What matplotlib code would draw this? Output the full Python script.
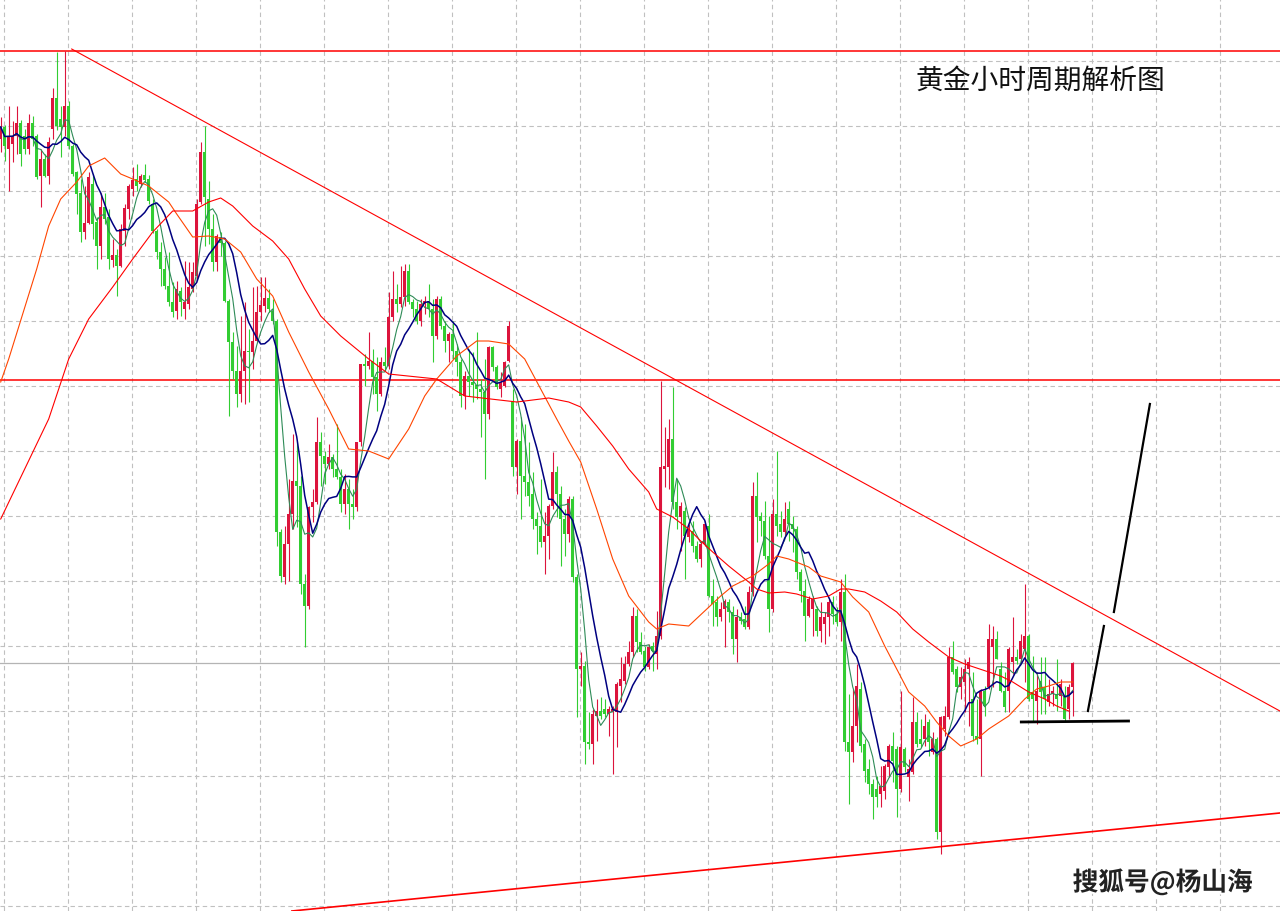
import numpy as np
import pandas as pd
import matplotlib
matplotlib.use("Agg")
import matplotlib.pyplot as plt
import matplotlib.patheffects as pe

plt.rcParams['font.family'] = ['Noto Sans CJK SC', 'DejaVu Sans']

# ---- hourly gold candles (price) ----
opens = [
    1986.0, 1987.2, 1985.0, 1985.5, 1986.3, 1987.6, 1986.3, 1985.0, 1987.6, 1986.3,
    1982.3, 1984.0, 1982.3, 1987.0, 1990.1, 1988.0, 1987.2, 1989.3, 1985.3, 1982.7,
    1980.6, 1976.7, 1977.6, 1981.5, 1977.7, 1975.3, 1979.2, 1978.2, 1973.9, 1974.4,
    1973.3, 1976.8, 1979.0, 1981.0, 1982.0, 1981.5, 1982.4, 1982.0, 1979.5, 1976.8,
    1974.7, 1973.0, 1971.3, 1969.7, 1968.8, 1970.8, 1969.0, 1969.5, 1971.0, 1972.3,
    1979.7, 1984.7, 1980.0, 1977.0, 1973.7, 1976.2, 1975.6, 1969.8, 1965.7, 1962.8,
    1960.5, 1962.8, 1964.8, 1964.7, 1965.8, 1968.7, 1969.3, 1970.1, 1968.8, 1967.8,
    1946.7, 1942.2, 1945.5, 1948.5, 1951.8, 1951.3, 1941.5, 1939.3, 1949.2, 1949.7,
    1955.7, 1954.3, 1953.5, 1954.2, 1953.0, 1952.2, 1949.5, 1951.0, 1949.5, 1949.2,
    1955.7, 1963.5, 1963.3, 1963.8, 1962.2, 1960.5, 1963.7, 1963.3, 1968.2, 1970.0,
    1969.5, 1970.2, 1972.8, 1969.7, 1969.0, 1967.8, 1969.5, 1969.8, 1969.0, 1966.3,
    1970.0, 1967.3, 1965.8, 1966.5, 1964.8, 1963.7, 1960.3, 1962.3, 1961.7, 1961.4,
    1961.0, 1960.7, 1958.5, 1965.2, 1963.2, 1961.0, 1961.3, 1963.8, 1959.8, 1953.2,
    1955.8, 1952.3, 1951.7, 1950.5, 1948.0, 1947.3, 1945.7, 1946.3, 1949.3, 1952.7,
    1950.5, 1948.0, 1946.5, 1950.0, 1942.2, 1933.0, 1933.3, 1925.7, 1925.5, 1928.3,
    1928.8, 1929.0, 1928.5, 1928.7, 1928.7, 1931.3, 1931.8, 1933.5, 1934.7, 1938.3,
    1935.7, 1934.8, 1933.2, 1935.3, 1934.5, 1936.3, 1953.0, 1953.2, 1956.0, 1949.7,
    1948.2, 1948.8, 1946.2, 1946.8, 1945.3, 1944.0, 1945.5, 1947.3, 1940.3, 1939.7,
    1938.2, 1939.0, 1939.7, 1938.7, 1936.0, 1938.2, 1938.0, 1937.2, 1940.7, 1950.3,
    1948.3, 1947.8, 1944.3, 1939.0, 1948.5, 1947.5, 1946.7, 1949.0, 1947.5, 1947.0,
    1942.7, 1940.8, 1938.3, 1939.0, 1939.0, 1936.8, 1937.5, 1938.2, 1939.7, 1938.5,
    1937.7, 1940.7, 1925.7, 1924.7, 1927.3, 1931.0, 1925.5, 1923.0, 1921.5, 1921.0,
    1920.5, 1920.8, 1923.2, 1925.3, 1925.0, 1921.0, 1925.0, 1922.2, 1922.7, 1927.7,
    1926.0, 1926.0, 1927.7, 1924.7, 1926.0, 1916.7, 1927.0, 1928.2, 1934.2, 1933.0,
    1931.2, 1931.7, 1933.0, 1930.0, 1926.3, 1926.0, 1930.8, 1931.2, 1935.2, 1936.0,
    1933.0, 1930.8, 1930.8, 1933.7, 1934.2, 1934.0, 1935.0, 1936.3, 1930.7, 1929.8,
    1931.8, 1931.2, 1929.7, 1930.5, 1930.5, 1930.3, 1930.3, 1929.0, 1931.2,
]
highs = [
    1988.2, 1987.4, 1989.3, 1987.8, 1989.3, 1987.9, 1987.0, 1988.5, 1988.3, 1986.5,
    1985.0, 1984.5, 1986.2, 1991.1, 1994.7, 1989.3, 1994.8, 1989.8, 1985.5, 1982.8,
    1982.0, 1981.3, 1982.7, 1982.5, 1978.2, 1980.6, 1980.6, 1979.0, 1976.0, 1975.0,
    1977.5, 1979.5, 1981.5, 1983.2, 1983.5, 1982.5, 1983.5, 1982.4, 1980.0, 1977.0,
    1975.7, 1974.2, 1974.7, 1971.7, 1971.8, 1971.2, 1973.8, 1973.7, 1973.7, 1980.0,
    1985.7, 1987.3, 1981.8, 1978.5, 1976.5, 1976.7, 1975.8, 1970.0, 1966.7, 1965.3,
    1968.3, 1969.7, 1967.0, 1971.2, 1971.3, 1972.2, 1972.2, 1971.0, 1970.0, 1968.0,
    1947.0, 1947.3, 1952.0, 1956.5, 1955.7, 1952.3, 1942.5, 1949.3, 1951.0, 1958.2,
    1956.7, 1954.8, 1955.5, 1954.5, 1957.5, 1953.0, 1952.5, 1952.0, 1951.0, 1955.7,
    1963.5, 1964.5, 1966.7, 1965.0, 1964.2, 1964.2, 1965.2, 1970.7, 1972.8, 1971.5,
    1973.3, 1973.5, 1973.5, 1970.0, 1969.8, 1970.0, 1970.3, 1971.5, 1970.0, 1970.3,
    1970.3, 1967.8, 1966.7, 1967.8, 1965.5, 1964.0, 1962.8, 1965.0, 1964.7, 1966.7,
    1962.0, 1964.0, 1965.3, 1965.3, 1963.4, 1962.7, 1963.8, 1967.8, 1961.0, 1956.0,
    1958.2, 1957.5, 1955.7, 1952.7, 1948.7, 1952.0, 1948.7, 1949.5, 1954.7, 1953.3,
    1951.3, 1949.0, 1950.3, 1950.3, 1942.5, 1934.7, 1933.8, 1928.7, 1929.0, 1930.0,
    1930.2, 1930.0, 1929.3, 1929.3, 1931.7, 1934.2, 1934.3, 1935.8, 1939.2, 1939.0,
    1936.7, 1935.3, 1935.5, 1935.7, 1938.8, 1961.8, 1957.2, 1958.0, 1961.2, 1952.0,
    1949.7, 1949.2, 1947.5, 1947.8, 1945.8, 1945.8, 1947.8, 1948.5, 1942.0, 1940.3,
    1939.7, 1940.0, 1940.0, 1939.3, 1939.0, 1938.7, 1939.3, 1941.3, 1951.7, 1952.7,
    1948.7, 1949.8, 1948.3, 1950.0, 1954.8, 1948.8, 1949.7, 1949.8, 1948.3, 1947.3,
    1943.0, 1942.0, 1940.3, 1940.3, 1939.3, 1939.7, 1938.7, 1940.0, 1940.3, 1939.2,
    1942.0, 1942.5, 1930.5, 1931.0, 1933.5, 1931.7, 1926.0, 1924.0, 1922.0, 1922.3,
    1923.3, 1923.5, 1925.5, 1926.7, 1925.3, 1930.8, 1925.2, 1924.0, 1930.2, 1928.7,
    1928.0, 1928.5, 1928.0, 1926.7, 1926.2, 1928.3, 1929.3, 1935.2, 1935.8, 1933.3,
    1933.2, 1934.0, 1934.2, 1932.7, 1930.0, 1931.0, 1931.3, 1937.5, 1937.3, 1936.8,
    1933.7, 1932.7, 1935.2, 1938.2, 1935.0, 1936.5, 1941.5, 1936.5, 1934.3, 1932.7,
    1934.2, 1934.2, 1932.0, 1931.3, 1934.0, 1932.0, 1931.3, 1931.5, 1933.7,
]
lows = [
    1984.7, 1983.8, 1980.8, 1983.7, 1984.5, 1983.3, 1984.5, 1984.5, 1985.3, 1982.0,
    1979.2, 1982.2, 1981.5, 1986.0, 1986.9, 1984.2, 1986.3, 1985.0, 1982.3, 1978.5,
    1975.7, 1976.0, 1977.5, 1976.0, 1973.0, 1974.0, 1977.5, 1973.0, 1973.2, 1970.3,
    1973.2, 1975.3, 1978.0, 1980.3, 1980.8, 1981.2, 1981.7, 1979.5, 1976.6, 1974.0,
    1971.3, 1971.0, 1969.3, 1968.2, 1968.0, 1968.3, 1968.0, 1969.0, 1970.7, 1972.0,
    1979.5, 1975.3, 1975.5, 1972.8, 1972.8, 1974.3, 1969.7, 1958.3, 1962.0, 1959.2,
    1959.7, 1959.5, 1959.7, 1963.0, 1965.7, 1967.8, 1968.7, 1968.7, 1967.5, 1945.3,
    1941.7, 1941.5, 1941.8, 1947.0, 1947.2, 1940.5, 1935.2, 1939.0, 1947.7, 1949.5,
    1951.3, 1951.5, 1953.0, 1952.2, 1952.0, 1948.7, 1948.5, 1947.0, 1948.0, 1948.8,
    1955.3, 1961.3, 1963.0, 1960.5, 1958.8, 1960.3, 1962.8, 1963.0, 1967.8, 1968.7,
    1969.2, 1969.3, 1969.5, 1968.2, 1967.5, 1967.3, 1968.5, 1968.2, 1963.7, 1966.0,
    1967.0, 1964.7, 1963.7, 1964.0, 1962.3, 1959.2, 1959.0, 1960.3, 1959.7, 1960.0,
    1956.2, 1952.0, 1958.0, 1962.8, 1961.0, 1960.2, 1961.2, 1963.7, 1952.3, 1950.5,
    1948.0, 1950.3, 1949.3, 1947.0, 1944.5, 1945.2, 1942.5, 1944.0, 1949.0, 1948.2,
    1943.3, 1944.3, 1945.7, 1941.7, 1928.2, 1931.3, 1923.5, 1925.0, 1923.5, 1925.8,
    1928.0, 1928.2, 1926.3, 1922.5, 1925.2, 1929.7, 1931.5, 1933.3, 1934.2, 1934.7,
    1934.5, 1932.8, 1933.0, 1932.8, 1933.0, 1936.0, 1951.2, 1951.0, 1949.0, 1947.0,
    1944.8, 1942.0, 1945.7, 1944.7, 1943.7, 1943.2, 1945.3, 1940.2, 1937.3, 1937.3,
    1937.8, 1935.2, 1937.7, 1934.5, 1933.7, 1937.5, 1937.0, 1937.0, 1940.3, 1945.7,
    1946.3, 1944.0, 1936.7, 1938.7, 1946.3, 1946.2, 1946.3, 1945.8, 1944.7, 1942.0,
    1939.7, 1935.8, 1938.2, 1936.3, 1936.3, 1935.7, 1935.5, 1936.3, 1937.5, 1937.3,
    1935.8, 1924.8, 1919.5, 1923.7, 1925.7, 1924.7, 1921.7, 1920.5, 1918.0, 1919.2,
    1919.2, 1920.0, 1922.2, 1921.7, 1918.2, 1920.7, 1922.7, 1919.8, 1922.5, 1925.2,
    1925.2, 1925.3, 1924.3, 1924.5, 1916.0, 1914.5, 1926.3, 1928.0, 1932.5, 1930.7,
    1930.0, 1928.7, 1927.3, 1925.8, 1925.5, 1922.3, 1928.3, 1931.0, 1931.2, 1934.0,
    1930.7, 1928.7, 1928.7, 1932.5, 1933.5, 1933.7, 1931.7, 1929.8, 1927.7, 1927.5,
    1928.5, 1928.5, 1929.3, 1929.3, 1928.8, 1929.3, 1927.8, 1928.0, 1928.3,
]
closes = [
    1987.2, 1985.3, 1986.3, 1986.3, 1987.6, 1984.5, 1985.0, 1987.6, 1986.0, 1982.2,
    1984.0, 1982.3, 1985.7, 1990.1, 1987.3, 1987.2, 1989.3, 1985.3, 1982.5, 1980.5,
    1976.7, 1977.6, 1982.2, 1977.5, 1975.3, 1979.2, 1978.0, 1974.0, 1974.4, 1973.3,
    1977.0, 1979.1, 1981.3, 1981.9, 1981.3, 1982.3, 1981.9, 1979.8, 1976.8, 1974.7,
    1973.0, 1971.3, 1969.7, 1968.7, 1971.0, 1969.7, 1969.7, 1971.2, 1972.7, 1979.5,
    1984.7, 1980.2, 1977.0, 1973.7, 1976.3, 1975.6, 1969.8, 1965.7, 1962.8, 1960.5,
    1962.8, 1964.8, 1964.7, 1965.8, 1968.7, 1969.4, 1970.1, 1969.0, 1967.8, 1946.7,
    1942.3, 1945.5, 1948.5, 1951.8, 1951.3, 1941.5, 1939.3, 1949.2, 1949.7, 1955.7,
    1954.3, 1953.5, 1954.2, 1953.0, 1952.2, 1949.5, 1951.0, 1949.5, 1949.2, 1955.7,
    1963.5, 1963.3, 1963.8, 1962.2, 1960.5, 1963.7, 1963.3, 1968.2, 1970.0, 1969.5,
    1970.2, 1972.8, 1969.7, 1969.0, 1967.8, 1969.5, 1969.8, 1969.0, 1966.3, 1970.0,
    1967.3, 1965.8, 1966.5, 1964.8, 1963.7, 1960.3, 1962.3, 1961.7, 1961.4, 1961.0,
    1960.7, 1958.5, 1965.2, 1963.2, 1961.2, 1961.7, 1963.7, 1967.3, 1953.2, 1955.8,
    1952.3, 1951.7, 1950.3, 1948.0, 1947.3, 1945.7, 1946.3, 1949.3, 1952.7, 1950.5,
    1948.0, 1946.5, 1950.0, 1942.2, 1933.0, 1933.3, 1925.7, 1925.5, 1928.5, 1928.8,
    1928.3, 1928.5, 1929.0, 1929.0, 1931.5, 1932.0, 1933.5, 1934.7, 1938.3, 1935.7,
    1934.7, 1933.2, 1935.2, 1934.8, 1936.3, 1953.2, 1953.3, 1956.0, 1949.7, 1948.2,
    1949.3, 1946.3, 1947.0, 1945.3, 1944.0, 1945.5, 1947.5, 1940.3, 1939.5, 1938.2,
    1939.0, 1939.8, 1938.7, 1936.0, 1938.2, 1937.8, 1937.2, 1940.7, 1950.3, 1948.2,
    1947.8, 1944.3, 1939.0, 1948.5, 1947.3, 1946.7, 1948.0, 1947.5, 1947.0, 1942.7,
    1940.8, 1938.3, 1940.0, 1940.0, 1936.8, 1938.2, 1938.2, 1939.7, 1938.5, 1937.7,
    1940.7, 1925.7, 1924.7, 1927.3, 1931.3, 1925.3, 1922.8, 1921.5, 1920.2, 1920.2,
    1921.3, 1923.3, 1925.3, 1923.8, 1921.0, 1925.2, 1923.2, 1923.0, 1927.7, 1925.5,
    1925.5, 1927.3, 1925.7, 1926.0, 1916.7, 1928.2, 1928.3, 1934.2, 1932.7, 1931.2,
    1932.2, 1933.0, 1933.7, 1926.3, 1926.0, 1930.8, 1929.3, 1936.0, 1936.0, 1934.0,
    1930.8, 1929.2, 1935.0, 1934.2, 1933.8, 1935.8, 1936.3, 1930.0, 1930.0, 1930.8,
    1930.7, 1930.0, 1930.5, 1930.8, 1930.0, 1931.5, 1928.0, 1931.2, 1933.6,
]

# slow moving averages (bar number, price)
orange_bar = [0, 2, 9, 12, 15, 19, 22, 26, 30, 33, 37, 42, 44, 48, 52, 56, 60, 64,
              68, 72, 77, 82, 87, 92, 97, 102, 106, 109, 114, 119, 122, 127, 131,
              135, 139, 142, 145, 149, 153, 157, 162, 164, 167, 172, 176, 180, 183,
              188, 192, 194, 197, 202, 205, 210, 213, 217, 221, 224, 227, 231, 234,
              237, 240, 244, 247, 252, 256, 259, 262, 265, 268]
orange_ma = [1961.7, 1964.0, 1973.0, 1977.3, 1980.0, 1981.7, 1983.3, 1984.1, 1982.5,
             1982.0, 1981.3, 1979.7, 1978.5, 1976.2, 1976.3, 1976.0, 1974.7, 1972.0,
             1970.3, 1966.7, 1962.7, 1959.0, 1955.0, 1954.8, 1954.0, 1957.0, 1960.3,
             1962.0, 1964.3, 1965.8, 1965.8, 1965.5, 1964.0, 1961.0, 1958.0, 1955.8,
             1953.7, 1949.0, 1944.0, 1940.3, 1937.7, 1937.0, 1937.5, 1937.3, 1938.8,
             1940.3, 1941.3, 1942.3, 1943.5, 1944.3, 1944.0, 1943.2, 1942.3, 1941.7,
             1940.2, 1938.7, 1935.3, 1933.0, 1930.7, 1929.3, 1927.7, 1926.3, 1925.3,
             1926.0, 1927.0, 1928.3, 1930.0, 1931.0, 1931.3, 1931.7, 1931.7]
red_bar = [0, 6, 12, 17, 22, 28, 33, 38, 43, 48, 52, 55, 58, 63, 68, 72, 76, 80, 85,
           92, 97, 109, 116, 129, 137, 142, 145, 149, 153, 157, 162, 164, 168, 172,
           175, 178, 182, 187, 189, 192, 196, 199, 203, 207, 210, 212, 216, 220, 224,
           228, 232, 237, 241, 247, 250, 253, 257, 261, 264, 267]
red_ma = [1948.0, 1953.0, 1958.0, 1964.0, 1968.0, 1971.2, 1974.0, 1976.7, 1978.8,
          1978.8, 1979.7, 1980.1, 1979.3, 1977.3, 1975.8, 1974.0, 1971.0, 1968.3,
          1966.3, 1964.0, 1962.5, 1962.0, 1960.3, 1959.7, 1960.1, 1959.7, 1959.2,
          1957.3, 1955.3, 1953.0, 1950.7, 1949.0, 1948.2, 1947.0, 1945.8, 1944.7,
          1943.3, 1941.7, 1941.0, 1940.6, 1940.7, 1940.5, 1940.0, 1940.3, 1941.0,
          1941.0, 1940.7, 1939.8, 1938.7, 1937.0, 1935.7, 1934.2, 1933.5, 1932.7,
          1932.3, 1931.7, 1930.7, 1930.0, 1929.3, 1928.8]

# drawn analysis lines: levels and (bar, price) end points
top_level = 1994.8
mid_level = 1961.9
gray_level = 1933.6
down_trend = ([17.75, 319.8], [1995.0, 1928.8])
up_support = ([72.8, 319.8], [1908.8, 1918.6])
base_line = ([254.8, 282.3], [1927.7, 1927.8])
arrow_low = ([271.8, 275.8], [1928.8, 1937.3])
arrow_high = ([278.3, 287.3], [1938.7, 1959.5])

title = "黄金小时周期解析图"
watermark = "搜狐号@杨山海"

# ---- drawing ----
o = np.array(opens)
h = np.array(highs)
l = np.array(lows)
c = np.array(closes)
x = np.arange(len(c))

fig = plt.figure(figsize=(12.8, 9.12), dpi=100)
ax = fig.add_axes([0, 0, 1, 1])
ax.set_xlim(-0.175, 319.825)
ax.set_ylim(1908.8, 2000.0)

# MT4-like dashed grid
ax.set_xticks(np.arange(0.825, 320, 16))
ax.set_yticks(np.arange(1993.8, 1908.5, -6.5))
ax.grid(True, color='#c0c0c0', linestyle=(0, (4, 3)), linewidth=0.8)
ax.tick_params(length=0, labelbottom=False, labelleft=False)
for s in ax.spines.values():
    s.set_visible(False)
ax.set_axisbelow(True)

ax.axhline(top_level, color='#ff0000', lw=1.1, zorder=2)
ax.axhline(mid_level, color='#ff0000', lw=1.1, zorder=2)
ax.axhline(gray_level, color='#b4b4b4', lw=0.9, zorder=2)

up = c >= o
cols = np.where(up, '#dc143c', '#32cd32')
ax.vlines(x, l, h, colors=cols, lw=0.8, zorder=3)
body = np.maximum(np.abs(c - o), 0.1)
ax.bar(x, body, bottom=np.minimum(o, c), width=0.7, color=cols, linewidth=0, zorder=3)

ma_fast = pd.Series(c).rolling(5, min_periods=1).mean()
ma_mid = pd.Series(c).rolling(10, min_periods=1).mean()
ax.plot(x, ma_fast, color='#2e8b57', lw=0.8, zorder=4)
ax.plot(x, ma_mid, color='#000080', lw=1.1, zorder=4)
ax.plot(orange_bar, orange_ma, color='#ff4500', lw=0.8, zorder=4)
ax.plot(red_bar, red_ma, color='#ff0000', lw=0.8, zorder=4)

ax.plot(*down_trend, color='#ff0000', lw=0.8, zorder=5)
ax.plot(*up_support, color='#ff0000', lw=1.2, zorder=5)
ax.plot(*base_line, color='black', lw=2.0, solid_capstyle='butt', zorder=6)
ax.plot(*arrow_low, color='black', lw=1.6, zorder=6)
ax.plot(*arrow_high, color='black', lw=1.6, zorder=6)

ax.text(0.715, 0.911, title, transform=ax.transAxes, fontsize=20,
        ha='left', va='center', color='#111111')
ax.text(0.838, 0.031, watermark, transform=ax.transAxes, fontsize=18.5,
        fontweight='bold', ha='left', va='center', color='#222222',
        path_effects=[pe.withStroke(linewidth=3, foreground='white')])

fig.savefig('out.png', dpi=100)
